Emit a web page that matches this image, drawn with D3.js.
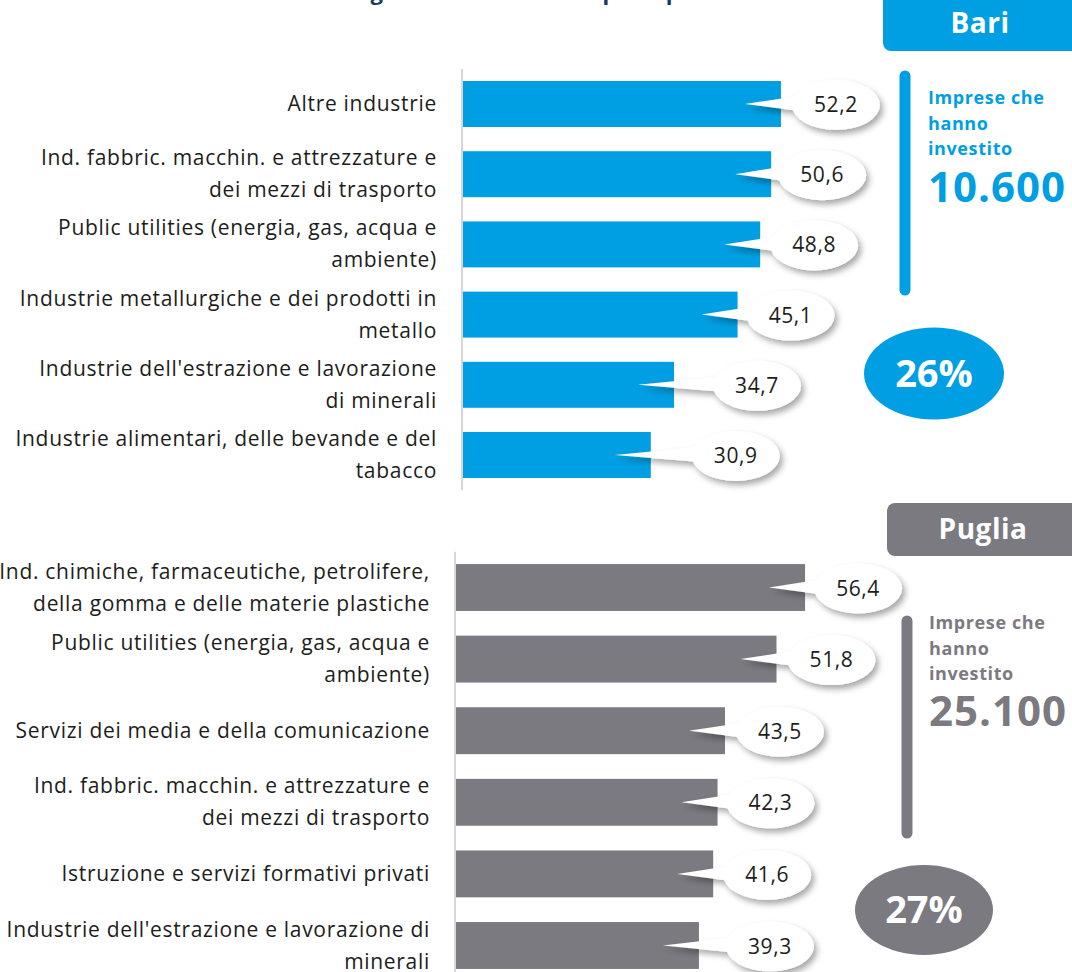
<!DOCTYPE html>
<html>
<head>
<meta charset="utf-8">
<script src="https://cdn.jsdelivr.net/npm/d3@7"></script>
<style>
  html, body { margin: 0; padding: 0; background: #fff; }
  svg { display: block; font-family: "Open Sans", "Noto Sans", sans-serif; }
</style>
</head>
<body>
<svg id="chart" width="1072" height="972"></svg>
<script>
// ---- data ----
const bariCategories = [
  ["Altre industrie"],
  ["Ind. fabbric. macchin. e attrezzature e", "dei mezzi di trasporto"],
  ["Public utilities (energia, gas, acqua e", "ambiente)"],
  ["Industrie metallurgiche e dei prodotti in", "metallo"],
  ["Industrie dell'estrazione e lavorazione", "di minerali"],
  ["Industrie alimentari, delle bevande e del", "tabacco"]
];
const bariValues = [52.2, 50.6, 48.8, 45.1, 34.7, 30.9];

const pugliaCategories = [
  ["Ind. chimiche, farmaceutiche, petrolifere,", "della gomma e delle materie plastiche"],
  ["Public utilities (energia, gas, acqua e", "ambiente)"],
  ["Servizi dei media e della comunicazione"],
  ["Ind. fabbric. macchin. e attrezzature e", "dei mezzi di trasporto"],
  ["Istruzione e servizi formativi privati"],
  ["Industrie dell'estrazione e lavorazione di", "minerali"]
];
const pugliaValues = [56.4, 51.8, 43.5, 42.3, 41.6, 39.3];

const areaNames = ["Bari", "Puglia"];
const investingFirms = ["10.600", "25.100"];
const investingShare = ["26%", "27%"];
const sideCaption = ["Imprese che", "hanno", "investito"];

// ---- layout ----
const BLUE = "#009fe3", GREY = "#7b7a80", TEXT = "#1d1d1b";
const fmt = v => d3.format(".1f")(v).replace(".", ",");

const svg = d3.select("#chart");
const defs = svg.append("defs");
const f = defs.append("filter").attr("id", "bubbleShadow")
  .attr("x", "-30%").attr("y", "-40%").attr("width", "160%").attr("height", "190%");
f.append("feDropShadow").attr("dx", 3).attr("dy", 4).attr("stdDeviation", 3)
  .attr("flood-color", "#000").attr("flood-opacity", 0.35);

// title (runs off the top edge)
svg.append("text")
  .attr("x", 225).attr("y", 0)
  .attr("font-size", 22).attr("font-weight", 700).attr("fill", "#1b3a5c")
  .text("Investimenti green: settori con la quota più alta");

const panels = [
  { cats: bariCategories, vals: bariValues, color: BLUE,
    x0: 462, x1: 828.6, y0: 68.9, y1: 490.1, axisEnd: 490,
    labelX: 437, bubbleDx: [55, 51, 54, 53, 83, 85] },
  { cats: pugliaCategories, vals: pugliaValues, color: GREY,
    x0: 455, x1: 827.4, y0: 551.7, y1: 981.3, axisEnd: 972,
    labelX: 430, bubbleDx: [53, 55, 55, 53, 54, 71] }
];

panels.forEach(p => {
  const x = d3.scaleLinear().domain([0, 60]).range([p.x0, p.x1]);
  const y = d3.scaleBand().domain(d3.range(p.vals.length))
    .range([p.y0, p.y1]).paddingInner(0.345).paddingOuter(0.1725);
  const g = svg.append("g");

  // baseline axis
  g.append("line")
    .attr("x1", x(0)).attr("x2", x(0))
    .attr("y1", p.y0).attr("y2", p.axisEnd)
    .attr("stroke", "#d6d6d6").attr("stroke-width", 2);

  // bars
  g.selectAll("rect.bar").data(p.vals).join("rect")
    .attr("class", "bar")
    .attr("x", x(0) + 1)
    .attr("y", (d, i) => y(i))
    .attr("width", d => x(d) - x(0) - 1)
    .attr("height", y.bandwidth())
    .attr("fill", p.color);

  // category labels
  p.cats.forEach((lines, i) => {
    const cy = y(i) + y.bandwidth() / 2;
    const lh = 32;
    const t = g.append("text")
      .attr("text-anchor", "end").attr("font-size", 21)
      .attr("letter-spacing", 0.7).attr("fill", TEXT);
    lines.forEach((ln, k) => {
      t.append("tspan").attr("x", p.labelX)
        .attr("y", cy + (k - (lines.length - 1) / 2) * lh + 7)
        .text(ln);
    });
  });

  // value callouts
  p.vals.forEach((v, i) => {
    const cy = y(i) + y.bandwidth() / 2;
    const end = x(v);
    const bx = end + p.bubbleDx[i], by = cy + 1;
    const rx = 44, ry = 25;
    const cg = g.append("g").attr("filter", "url(#bubbleShadow)");
    cg.append("path")
      .attr("d", `M${end - 36},${cy} L${bx - rx + 6},${by - 9} L${bx - rx + 8},${by + 6} Z`)
      .attr("fill", "#fff");
    cg.append("ellipse")
      .attr("cx", bx).attr("cy", by).attr("rx", rx).attr("ry", ry)
      .attr("fill", "#fff");
    g.append("text")
      .attr("x", bx).attr("y", by + 7)
      .attr("text-anchor", "middle").attr("font-size", 21)
      .attr("letter-spacing", 0.6).attr("fill", TEXT)
      .text(fmt(v));
  });
});

// ---- side panels ----
const side = [
  { name: areaNames[0], color: BLUE, box: [883, -10, 200, 61], nameX: 980, nameY: 33,
    barX: 905, barY: [71, 295], textX: 928, capY: 104, numY: 202,
    num: investingFirms[0], share: investingShare[0], ell: [934, 373.5, 70, 46] },
  { name: areaNames[1], color: GREY, box: [887, 503, 200, 53], nameX: 983, nameY: 539,
    barX: 907, barY: [616, 838], textX: 929, capY: 629, numY: 726,
    num: investingFirms[1], share: investingShare[1], ell: [924, 910, 69, 45] }
];

side.forEach(s => {
  const g = svg.append("g");
  g.append("rect")
    .attr("x", s.box[0]).attr("y", s.box[1]).attr("width", s.box[2]).attr("height", s.box[3])
    .attr("rx", 8).attr("fill", s.color);
  g.append("text")
    .attr("x", s.nameX).attr("y", s.nameY).attr("text-anchor", "middle")
    .attr("font-size", 28).attr("font-weight", 700).attr("letter-spacing", 0.5)
    .attr("fill", "#fff")
    .text(s.name);

  g.append("line")
    .attr("x1", s.barX).attr("x2", s.barX)
    .attr("y1", s.barY[0] + 5).attr("y2", s.barY[1] - 5)
    .attr("stroke", s.color).attr("stroke-width", 11).attr("stroke-linecap", "round");

  sideCaption.forEach((c, k) => {
    g.append("text")
      .attr("x", s.textX).attr("y", s.capY + k * 25.5)
      .attr("font-size", 18).attr("font-weight", 700).attr("letter-spacing", 0.6)
      .attr("fill", s.color)
      .text(c);
  });
  g.append("text")
    .attr("x", s.textX).attr("y", s.numY)
    .attr("font-size", 42).attr("font-weight", 700).attr("letter-spacing", 1)
    .attr("fill", s.color)
    .text(s.num);

  g.append("ellipse")
    .attr("cx", s.ell[0]).attr("cy", s.ell[1]).attr("rx", s.ell[2]).attr("ry", s.ell[3])
    .attr("fill", s.color);
  g.append("text")
    .attr("x", s.ell[0]).attr("y", s.ell[1] + 13).attr("text-anchor", "middle")
    .attr("font-size", 38).attr("font-weight", 700).attr("fill", "#fff")
    .text(s.share);
});
</script>
</body>
</html>
